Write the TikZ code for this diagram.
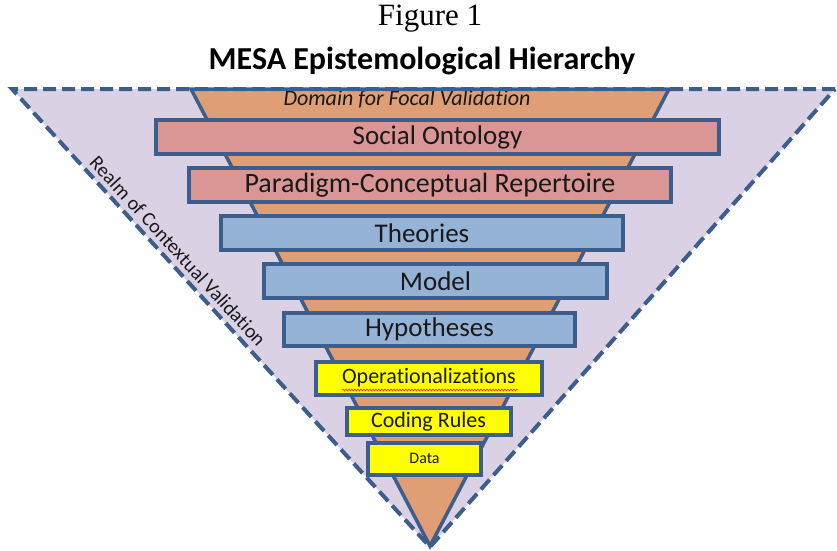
\documentclass[tikz,border=0pt]{standalone}
\usepackage{fontspec}
\setmainfont{Liberation Serif}
\newfontfamily\carlitofam[Ligatures=NoCommon]{Carlito}
\usetikzlibrary{decorations.pathmorphing}
\definecolor{edgeblue}{HTML}{3B5E8C}
\definecolor{lav}{HTML}{DAD1E4}
\definecolor{orng}{HTML}{DF9E73}
\definecolor{pinkf}{HTML}{D99694}
\definecolor{bluef}{HTML}{95B3D7}
\definecolor{yel}{HTML}{FFFF00}
\tikzset{
  lvl/.style={draw=edgeblue, line width=4pt, rectangle, inner sep=0pt, font=\carlitofam, text=black!90},
  pinkbox/.style={lvl, fill=pinkf},
  bluebox/.style={lvl, fill=bluef},
  yelbox/.style={lvl, fill=yel},
}
\begin{document}
\begin{tikzpicture}[x=1pt,y=-1pt]
\useasboundingbox (0,0) rectangle (837,550);
% outer realm
\path[fill=lav] (12,89) -- (835,89) -- (430,547) -- cycle;
% focal domain fill
\path[fill=orng] (191,89) -- (669,89) -- (430,546) -- cycle;
\node[font=\carlitofam\itshape, text=black!90, anchor=center] (dom) at (407,99) {\fontsize{22}{22}\selectfont Domain for Focal Validation};
\draw[edgeblue, line width=4pt, dash pattern=on 13pt off 6pt] (835,89) -- (12,89) -- (430,547) -- (835,89);
\draw[edgeblue, line width=3.5pt, line join=miter] (191,89) -- (669,89) -- (430,546) -- cycle;
% titles
\node (fig) at (430,19) {\fontsize{31}{31}\selectfont Figure 1};
\node[font=\carlitofam\bfseries] (title) at (422,61) {\fontsize{32}{32}\selectfont MESA Epistemological Hierarchy};
% levels
\node[pinkbox, minimum width=563pt, minimum height=34pt] (so) at (437.5,137) {\fontsize{27}{27}\selectfont Social Ontology};
\node[pinkbox, minimum width=482pt, minimum height=34pt] (pc) at (430,185) {\fontsize{28}{28}\selectfont Paradigm-Conceptual Repertoire};
\node[bluebox, minimum width=402pt, minimum height=34pt] (th) at (422,233) {\fontsize{27}{27}\selectfont Theories};
\node[bluebox, minimum width=343pt, minimum height=34pt] (mo) at (435.5,281) {\fontsize{27}{27}\selectfont Model};
\node[bluebox, minimum width=291pt, minimum height=33pt] (hy) at (429.5,329) {\fontsize{27}{27}\selectfont Hypotheses};
\node[yelbox, minimum width=226pt, minimum height=33pt] (op) at (429,378) {\fontsize{22}{22}\selectfont Operationalizations};
\node[yelbox, minimum width=164pt, minimum height=27pt] (cr) at (428.5,421.5) {\fontsize{22}{22}\selectfont Coding Rules};
\node[yelbox, minimum width=113pt, minimum height=32pt] (da) at (424.5,458.5) {\fontsize{16}{16}\selectfont Data};
\draw[red!80, line width=0.7pt, decorate, decoration={snake, amplitude=1pt, segment length=3pt}] (342,390) -- (518,390);
% realm label
\node[font=\carlitofam, text=black!90, rotate=-47.5] (realm) at (178,251) {\fontsize{20}{20}\selectfont Realm of Contextual Validation};
\end{tikzpicture}
\end{document}
